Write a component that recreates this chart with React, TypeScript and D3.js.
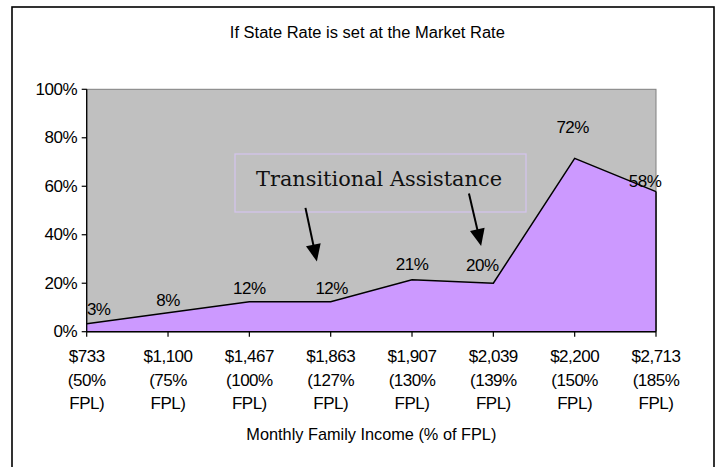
import React from "react";
import * as d3 from "d3";

const categories = ["$733", "$1,100", "$1,467", "$1,863", "$1,907", "$2,039", "$2,200", "$2,713"];
const fplLines = ["(50%", "(75%", "(100%", "(127%", "(130%", "(139%", "(150%", "(185%"];
const values = [0.033, 0.078, 0.124, 0.124, 0.214, 0.2, 0.715, 0.578];
const labelDx = [12, 0, 0, 1, 0, -11, -2, -11];
const labelDy = [-14, -12, -13, -13, -15, -18, -31, -10];
const yTicks = [0, 0.2, 0.4, 0.6, 0.8, 1.0];

const W = 718;
const H = 467;
const plot = { left: 86.7, right: 656, top: 89.3, bottom: 331.7 };
const sans = "'Liberation Sans', Arial, sans-serif";
const fs = 17;
const ls = -0.5;

export default function App() {
  const idx = d3.range(categories.length);
  const x = d3.scaleLinear().domain([0, categories.length - 1]).range([plot.left, plot.right]);
  const y = d3.scaleLinear().domain([0, 1]).range([plot.bottom, plot.top]);

  const area = d3
    .area<number>()
    .x((i) => x(i))
    .y0(y(0))
    .y1((i) => y(values[i]));
  const line = d3
    .line<number>()
    .x((i) => x(i))
    .y((i) => y(values[i]));
  const last = categories.length - 1;

  const arrows = [
    { from: [2.69, 0.511], to: [2.83, 0.29] },
    { from: [4.7, 0.57], to: [4.85, 0.354] },
  ];

  const arrowShape = (fx: number, fy: number, tx: number, ty: number) => {
    const dx = tx - fx;
    const dy = ty - fy;
    const len = Math.hypot(dx, dy);
    const ux = dx / len;
    const uy = dy / len;
    const headLen = 17;
    const headW = 7.5;
    const bx = tx - ux * headLen;
    const by = ty - uy * headLen;
    const px = -uy;
    const py = ux;
    return {
      shaft: `M${fx},${fy}L${bx + ux * 2},${by + uy * 2}`,
      head: `M${tx},${ty}L${bx + px * headW},${by + py * headW}L${bx - px * headW},${by - py * headW}Z`,
    };
  };

  return (
    <svg
      width={W}
      height={H}
      style={{ position: "absolute", left: 0, top: 0, background: "#fff" }}
      fontFamily={sans}
    >
      <defs>
        <clipPath id="plotclip">
          <rect x={plot.left} y={0} width={W} height={H} />
        </clipPath>
      </defs>
      <rect x={0} y={0} width={W} height={H} fill="#fff" />
      {/* outer border */}
      <rect x={12} y={7} width={702} height={480} fill="none" stroke="#000" strokeWidth={1.6} />

      {/* title */}
      <text
        x={(plot.left + plot.right) / 2 - 4}
        y={37.5}
        textAnchor="middle"
        fontSize={16}
        textLength={275}
        lengthAdjust="spacingAndGlyphs"
        fill="#000"
      >
        If State Rate is set at the Market Rate
      </text>

      {/* plot background */}
      <rect
        x={plot.left}
        y={plot.top}
        width={plot.right - plot.left}
        height={plot.bottom - plot.top}
        fill="#c0c0c0"
        stroke="#808080"
        strokeWidth={1}
      />

      {/* area */}
      <path d={area(idx) || ""} fill="#cc99ff" />
      <path d={line(idx) || ""} fill="none" stroke="#000" strokeWidth={1.5} />
      <line
        x1={x(last)}
        x2={x(last)}
        y1={y(values[last])}
        y2={plot.bottom}
        stroke="#000"
        strokeWidth={1.5}
      />

      {/* axes */}
      <line x1={plot.left} x2={plot.left} y1={plot.top} y2={plot.bottom} stroke="#000" strokeWidth={1.3} />
      <line x1={plot.left} x2={plot.right} y1={plot.bottom} y2={plot.bottom} stroke="#000" strokeWidth={1.5} />

      {yTicks.map((t) => (
        <g key={t}>
          <line x1={plot.left - 5} x2={plot.left} y1={y(t)} y2={y(t)} stroke="#000" strokeWidth={1.2} />
          <text
            x={77}
            y={y(t)}
            textAnchor="end"
            dominantBaseline="central"
            fontSize={fs}
            letterSpacing={ls}
            fill="#000"
          >
            {`${Math.round(t * 100)}%`}
          </text>
        </g>
      ))}

      {idx.map((i) => (
        <g key={i}>
          <line x1={x(i)} x2={x(i)} y1={plot.bottom} y2={plot.bottom + 5} stroke="#000" strokeWidth={1.2} />
          <text textAnchor="middle" fontSize={fs} letterSpacing={ls} fill="#000">
            <tspan x={x(i)} y={362}>{categories[i]}</tspan>
            <tspan x={x(i)} y={386}>{fplLines[i]}</tspan>
            <tspan x={x(i)} y={409}>FPL)</tspan>
          </text>
        </g>
      ))}

      {/* data labels */}
      <g clipPath="url(#plotclip)">
        {idx.map((i) => (
          <text
            key={i}
            x={x(i) + labelDx[i]}
            y={y(values[i]) + labelDy[i]}
            textAnchor="middle"
            dominantBaseline="central"
            fontSize={fs}
            letterSpacing={ls}
            fill="#000"
          >
            {`${Math.round(values[i] * 100)}%`}
          </text>
        ))}
      </g>

      {/* x axis title */}
      <text
        x={(plot.left + plot.right) / 2}
        y={440}
        textAnchor="middle"
        fontSize={fs}
        textLength={250}
        lengthAdjust="spacingAndGlyphs"
        fill="#000"
      >
        Monthly Family Income (% of FPL)
      </text>

      {/* annotation */}
      <rect x={235} y={154} width={291} height={58} fill="none" stroke="#d4c4ee" strokeWidth={1.2} />
      <text
        x={379}
        y={186}
        textAnchor="middle"
        fontFamily="'DejaVu Serif', Georgia, serif"
        fontSize={21}
        textLength={246}
        lengthAdjust="spacingAndGlyphs"
        fill="#111"
      >
        Transitional Assistance
      </text>
      {arrows.map((a, k) => {
        const s = arrowShape(x(a.from[0]), y(a.from[1]), x(a.to[0]), y(a.to[1]));
        return (
          <g key={k}>
            <path d={s.shaft} stroke="#000" strokeWidth={2} fill="none" />
            <path d={s.head} fill="#000" />
          </g>
        );
      })}
    </svg>
  );
}
